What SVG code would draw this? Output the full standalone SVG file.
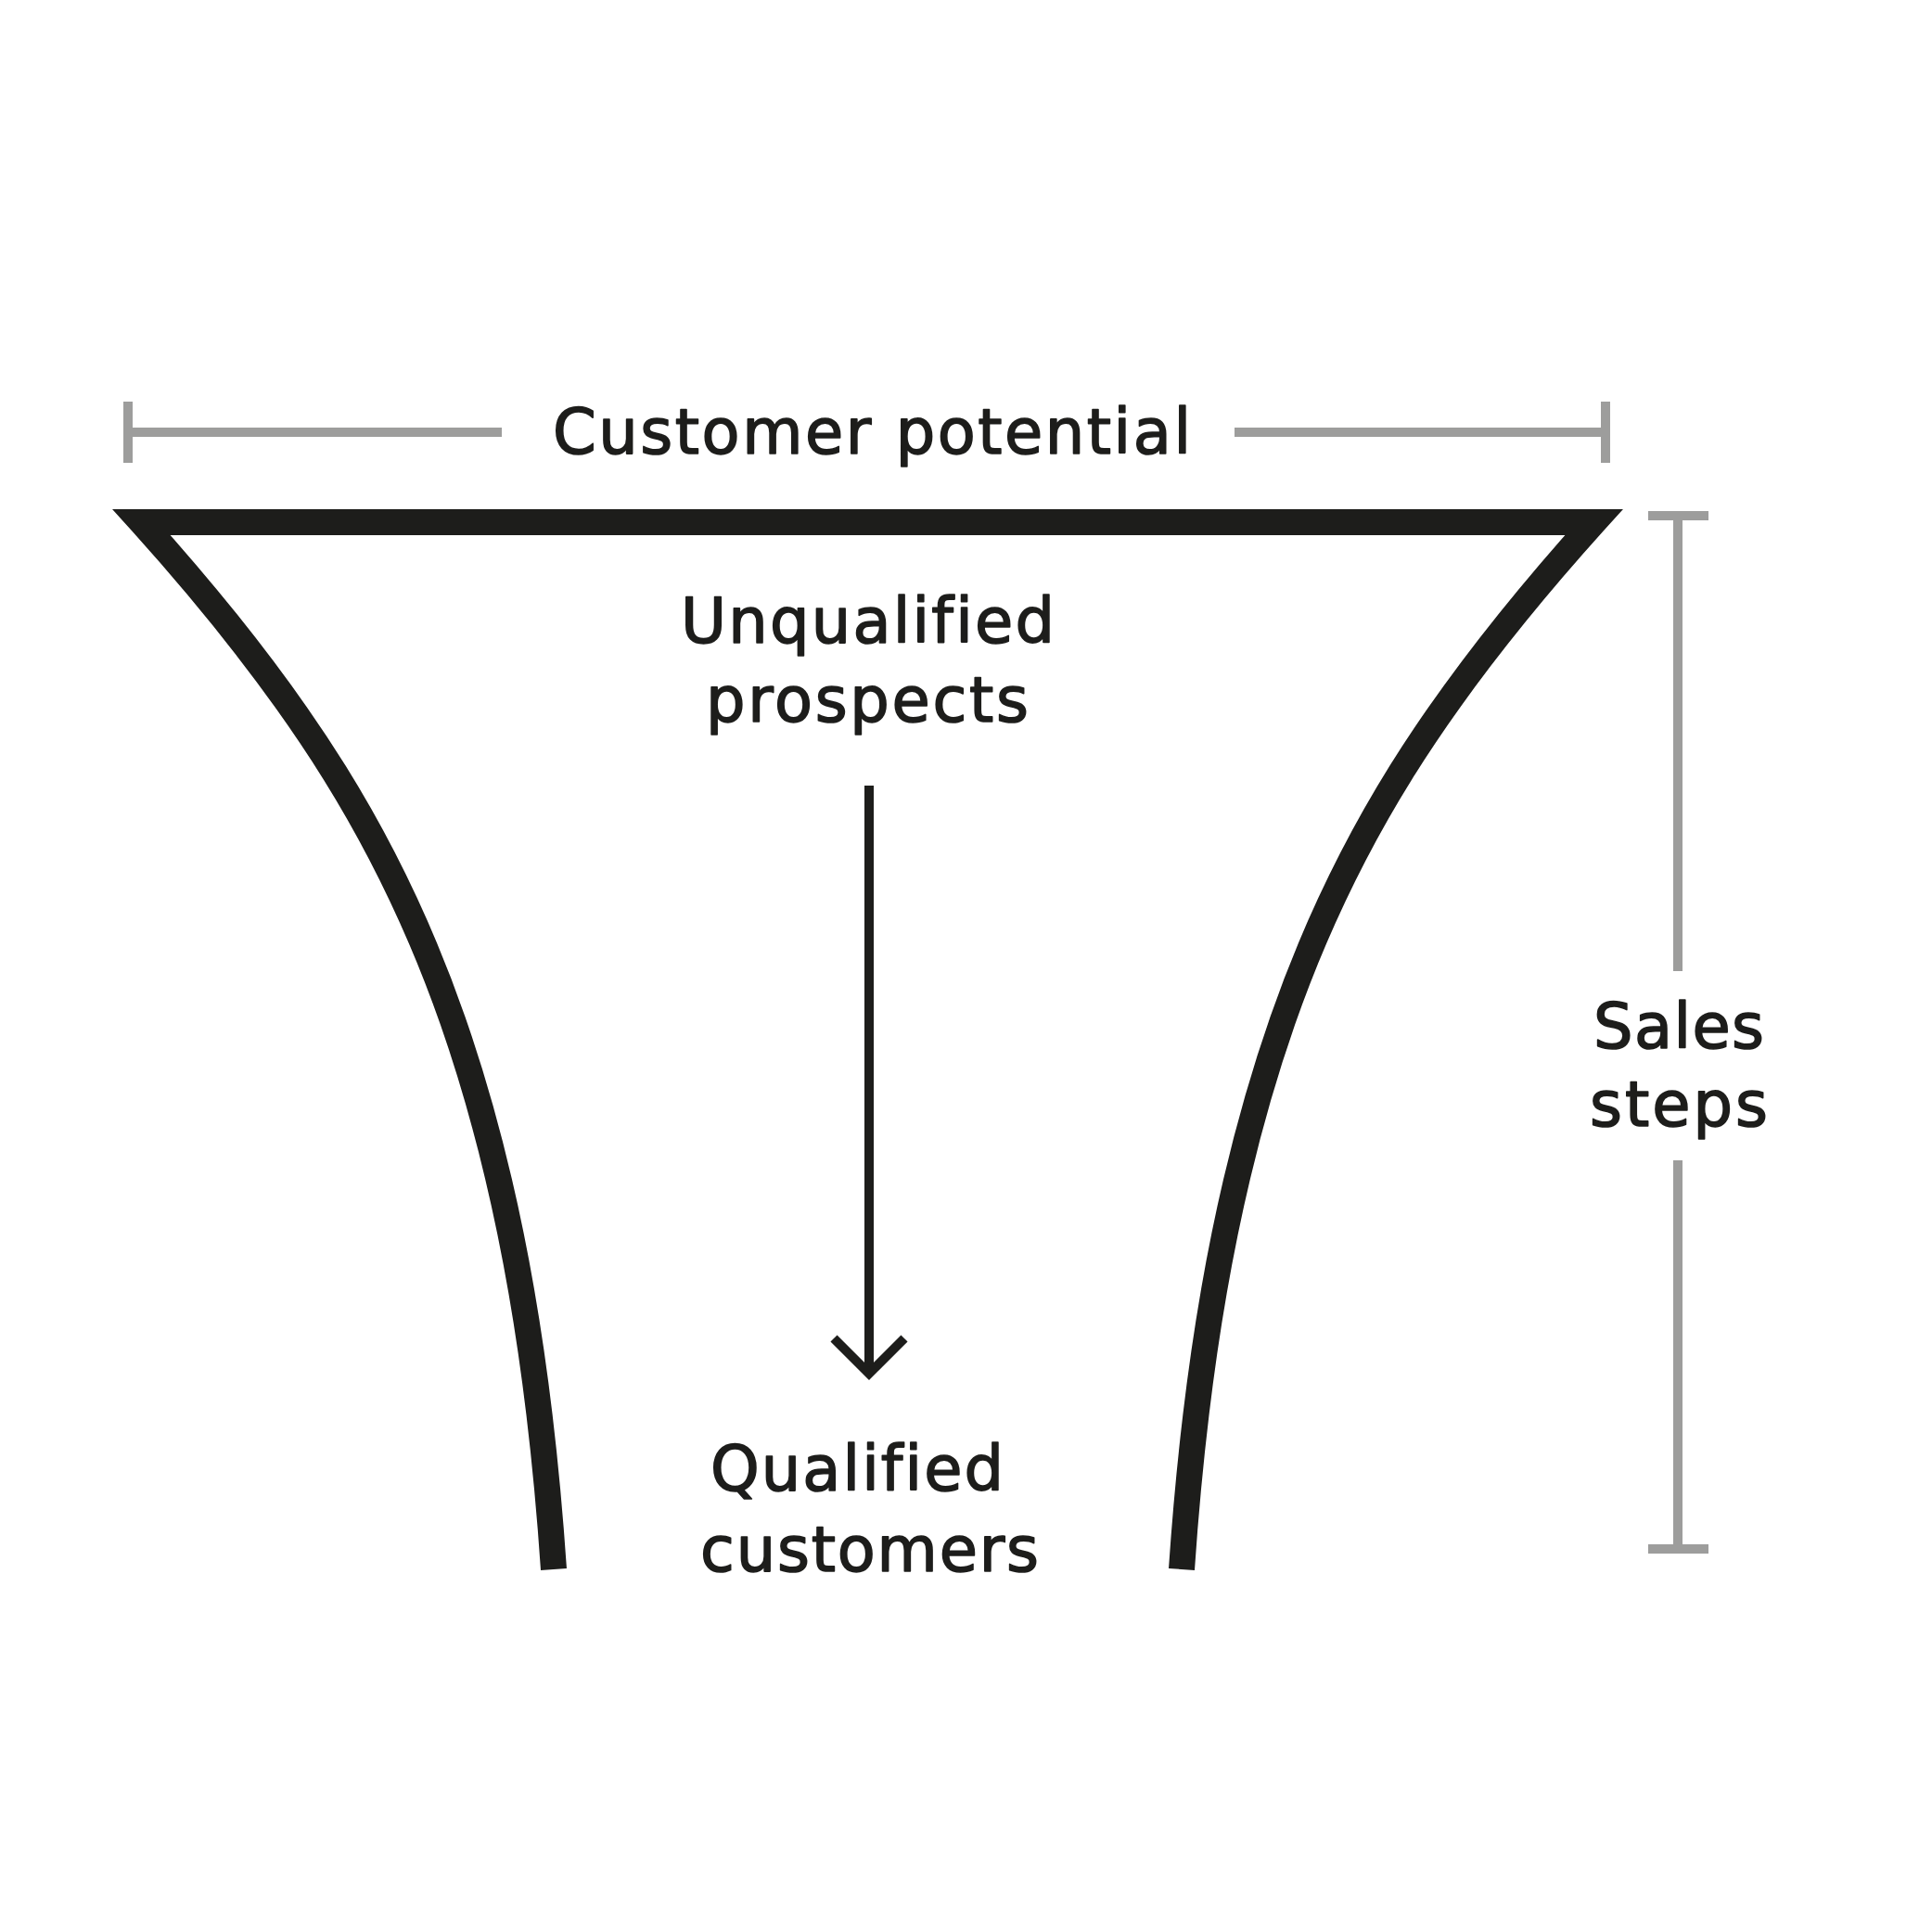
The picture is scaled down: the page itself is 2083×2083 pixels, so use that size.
<svg xmlns="http://www.w3.org/2000/svg" width="2083" height="2083" viewBox="0 0 2083 2083">
  <defs>
    <style>
      .funnel { fill: none; stroke: #1d1d1b; stroke-width: 28; stroke-linejoin: miter; stroke-miterlimit: 10; stroke-linecap: butt; }
      .arrow { fill: none; stroke: #1d1d1b; stroke-width: 10; stroke-linejoin: miter; stroke-miterlimit: 10; }
      .dim { fill: none; stroke: #9d9d9c; stroke-width: 10; stroke-linecap: butt; }
      .lbl { font-family: "DejaVu Sans", "Liberation Sans", sans-serif; font-size: 67px; fill: #1d1d1b; stroke: #1d1d1b; stroke-width: 1.6; stroke-linejoin: round; font-variant-ligatures: none; font-feature-settings: "liga" 0; }
    </style>
  </defs>
  <rect x="0" y="0" width="2083" height="2083" fill="#ffffff"/>

  <g id="funnel">
    <path class="funnel" d="M 597 1692 C 583.4 1492.4, 554 1289, 488 1100 C 422 911, 326.4 756, 152.5 563 L 1718.5 563 C 1544.6 756, 1449 911, 1383 1100 C 1317 1289, 1287.6 1492.4, 1274 1692"/>
  </g>

  <g id="customer-potential">
    <path class="dim" d="M 138 433 L 138 499 M 138 466 L 541 466 M 1331 466 L 1731 466 M 1731 433 L 1731 499"/>
    <text class="lbl" x="596" y="489" textLength="688" lengthAdjust="spacing">Customer potential</text>
  </g>

  <g id="sales-steps">
    <path class="dim" d="M 1777 556 L 1842 556 M 1809 556 L 1809 1047 M 1809 1251 L 1809 1670 M 1777 1670 L 1842 1670"/>
    <text class="lbl" x="1718" y="1130" textLength="184" lengthAdjust="spacing">Sales</text>
    <text class="lbl" x="1714" y="1214" textLength="192" lengthAdjust="spacing">steps</text>
  </g>

  <g id="unqualified-prospects">
    <text class="lbl" x="734" y="693" textLength="403" lengthAdjust="spacing">Unqualified</text>
    <text class="lbl" x="761" y="778" textLength="348" lengthAdjust="spacing">prospects</text>
  </g>

  <g id="qualified-customers">
    <text class="lbl" x="766" y="1607" textLength="316" lengthAdjust="spacing">Qualified</text>
    <text class="lbl" x="755" y="1694" textLength="365" lengthAdjust="spacing">customers</text>
  </g>

  <g id="connectors">
    <path class="arrow" d="M 937 847 L 937 1481"/>
    <path class="arrow" d="M 899 1443 L 937 1481 L 975 1443"/>
  </g>
</svg>
